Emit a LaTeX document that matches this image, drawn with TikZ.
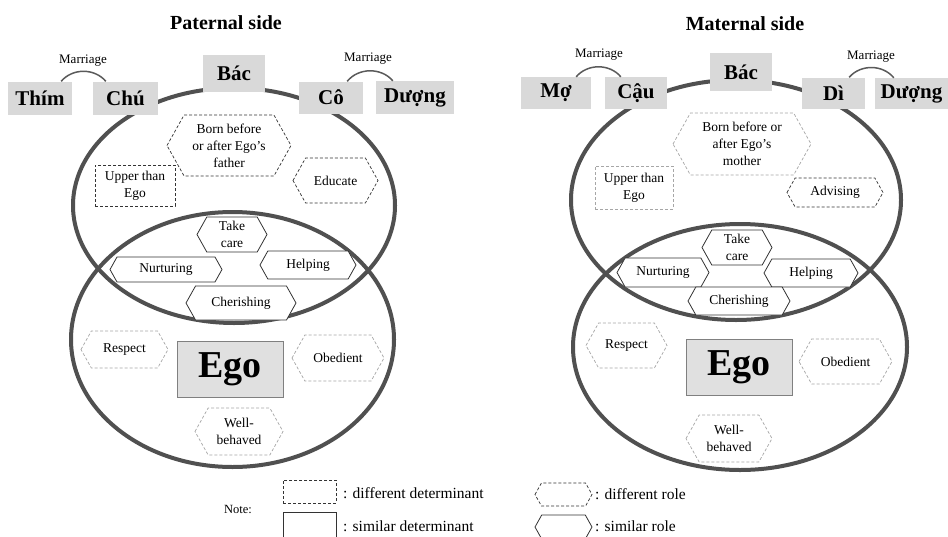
\documentclass[tikz,border=0pt]{standalone}
\usepackage{fontspec}
\setmainfont{Liberation Serif}
\definecolor{kinfill}{HTML}{D9D9D9}
\definecolor{egofill}{HTML}{E0E0E0}
\definecolor{ringgray}{HTML}{505050}
\definecolor{darkline}{HTML}{333333}
\definecolor{lightline}{HTML}{A6A6A6}
\definecolor{arcgray}{HTML}{5A5A5A}

% hexagon with pointed left/right ends: style, name, cx, cy, width, height, text
\newcommand\hexbox[7]{%
  \pgfmathsetmacro\hxd{0.28*#6}%
  \filldraw[#1] ({#3-#5/2},#4) -- ({#3-#5/2+\hxd},{#4-#6/2}) -- ({#3+#5/2-\hxd},{#4-#6/2})
    -- ({#3+#5/2},#4) -- ({#3+#5/2-\hxd},{#4+#6/2}) -- ({#3-#5/2+\hxd},{#4+#6/2}) -- cycle;
  \node[role] (#2) at (#3,#4) {#7};}
% kinship term box: name, cx, cy, width, height, text
\newcommand\kinbox[6]{%
  \node[kin, minimum width=#4pt, minimum height=#5pt] (#1) at (#2,#3) {#6};}

\begin{document}
\begin{tikzpicture}[x=1pt,y=-1pt,
  ring/.style={draw=ringgray, line width=4pt},
  kin/.style={fill=kinfill, inner sep=0pt, font=\fontsize{21}{24}\selectfont\bfseries},
  title/.style={font=\fontsize{20}{23}\selectfont\bfseries},
  role/.style={align=center, inner sep=0pt, font=\fontsize{13.5}{17}\selectfont},
  simrole/.style={draw=darkline, fill=white, line width=0.8pt},
  difrole/.style={draw=darkline, fill=white, line width=0.7pt, dash pattern=on 3pt off 2pt},
  difrolelight/.style={draw=lightline, fill=white, line width=0.7pt, dash pattern=on 3pt off 2pt},
  detbox/.style={draw=darkline, fill=white, line width=0.7pt, dash pattern=on 3pt off 2pt,
    align=center, inner sep=0pt, font=\fontsize{13.5}{17}\selectfont},
  detboxlight/.style={detbox, draw=lightline},
  egobox/.style={draw=gray, fill=egofill, line width=0.8pt, inner sep=0pt,
    font=\fontsize{38}{40}\selectfont\bfseries},
  marr/.style={draw=arcgray, line width=1.5pt},
  marrtext/.style={font=\fontsize{13}{15}\selectfont},
  legtext/.style={anchor=west, inner sep=0pt, font=\fontsize{15.5}{17}\selectfont}]
\useasboundingbox (0,0) rectangle (948,536);

% ---------------- Paternal side ----------------
\node[title] (ptitle) at (226,23) {Paternal side};
\draw[ring] (234,205.5) ellipse [x radius=161, y radius=117.5];
\draw[ring] (232.5,339.5) ellipse [x radius=161.5, y radius=127.5];

\kinbox{thim}{40}{98}{64}{33}{Thím}
\kinbox{chu}{125.5}{98}{65}{33}{Chú}
\kinbox{bacP}{234}{73}{62}{37}{Bác}
\kinbox{co}{331}{97.5}{64}{32}{Cô}
\kinbox{duongP}{415}{97.5}{78}{33}{Dượng}

\node[marrtext] (marrP1) at (83,61) {Marriage};
\node[marrtext] (marrP2) at (368,59) {Marriage};
\draw[marr] ([xshift=-11pt]thim.north east) to[bend left=50] ([xshift=13pt]chu.north west);
\draw[marr] ([xshift=-16pt]co.north east) to[bend left=50] ([xshift=17pt]duongP.north west);

\hexbox{difrole}{bornP}{229}{145.5}{124}{61}{Born before\\or after Ego's\\father}
\node[detbox, minimum width=80pt, minimum height=41pt] (upperP) at (135,185.5) {Upper than\\Ego};
\hexbox{difrole}{educ}{335.5}{180.5}{85}{45}{Educate}

\hexbox{simrole}{takeP}{232}{234.5}{70}{35}{Take\\care}
\hexbox{simrole}{nurtP}{166}{269.5}{112}{25}{Nurturing}
\hexbox{simrole}{helpP}{308}{265}{96}{28}{Helping}
\hexbox{simrole}{cherP}{241}{303}{110}{34}{Cherishing}

\hexbox{difrolelight}{respP}{124.5}{349.5}{87}{37}{Respect}
\node[egobox, minimum width=106pt, minimum height=56pt] (egoP) at (230,369) {Ego};
\hexbox{difrolelight}{obedP}{338}{358}{92}{46}{Obedient}
\hexbox{difrolelight}{wellP}{239}{431.5}{88}{47}{Well-\\behaved}

% ---------------- Maternal side ----------------
\node[title] (mtitle) at (745,24) {Maternal side};
\draw[ring] (736,200) ellipse [x radius=165, y radius=120];
\draw[ring] (740,347) ellipse [x radius=167, y radius=123];

\kinbox{mo}{556}{93}{70}{32}{Mợ}
\kinbox{cau}{636}{93}{62}{32}{Cậu}
\kinbox{bacM}{741}{72}{62}{38}{Bác}
\kinbox{di}{833.5}{93}{63}{31}{Dì}
\kinbox{duongM}{911.5}{93.5}{73}{31}{Dượng}

\node[marrtext] (marrM1) at (599,55) {Marriage};
\node[marrtext] (marrM2) at (871,57) {Marriage};
\draw[marr] ([xshift=-15pt]mo.north east) to[bend left=50] ([xshift=16pt]cau.north west);
\draw[marr] ([xshift=-16pt]di.north east) to[bend left=50] ([xshift=19pt]duongM.north west);

\hexbox{difrolelight}{bornM}{742}{144}{138}{62}{Born before or\\after Ego's\\mother}
\node[detboxlight, minimum width=78pt, minimum height=43pt] (upperM) at (634,187.5) {Upper than\\Ego};
\hexbox{difrole}{advis}{835}{192.5}{96}{29}{Advising}

\hexbox{simrole}{takeM}{737}{247.5}{70}{35}{Take\\care}
\hexbox{simrole}{nurtM}{663}{272.5}{92}{29}{Nurturing}
\hexbox{simrole}{helpM}{811}{273}{94}{28}{Helping}
\hexbox{simrole}{cherM}{739}{301}{102}{28}{Cherishing}

\hexbox{difrolelight}{respM}{626.5}{345.5}{81}{45}{Respect}
\node[egobox, minimum width=106pt, minimum height=56pt] (egoM) at (739,367) {Ego};
\hexbox{difrolelight}{obedM}{845.5}{361.5}{93}{45}{Obedient}
\hexbox{difrolelight}{wellM}{729}{438.5}{86}{47}{Well-\\behaved}

% ---------------- Legend ----------------
\node[font=\fontsize{12.5}{14}\selectfont] (note) at (238,509) {Note:};
\node[detbox, minimum width=53pt, minimum height=23pt] (legdet) at (309.5,491.5) {};
\node[legtext] (legdettext) at (343,493) {: different determinant};
\node[draw=darkline, line width=0.8pt, minimum width=53pt, minimum height=26pt, inner sep=0pt] (legsim) at (309.5,525) {};
\node[legtext] (legsimtext) at (343,526) {: similar determinant};
\hexbox{difrole}{legdif}{563.5}{494.5}{57}{23}{}
\node[legtext] (legdiftext) at (595,494) {: different role};
\hexbox{simrole}{legsimr}{563.5}{527}{57}{24}{}
\node[legtext] (legsimrtext) at (595,526) {: similar role};
\end{tikzpicture}
\end{document}
